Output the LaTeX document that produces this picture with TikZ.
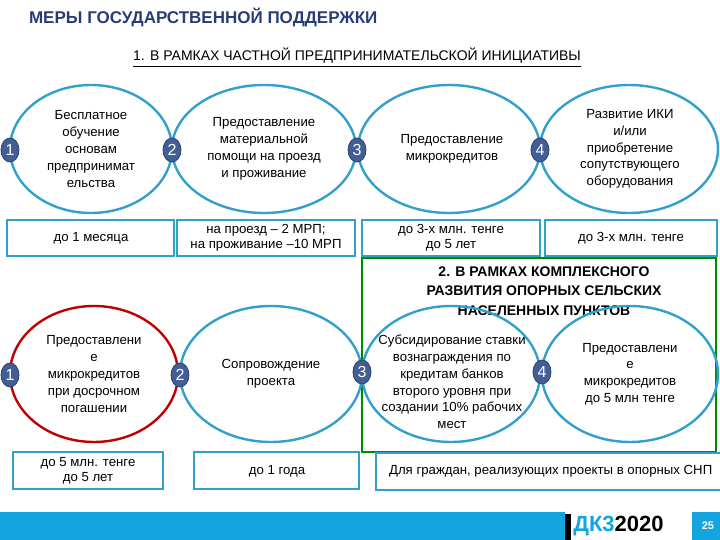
\documentclass[tikz,border=0pt]{standalone}
\usepackage{fontspec}
\usetikzlibrary{shapes.geometric}
\setmainfont{Liberation Sans}
\begin{document}
\begin{tikzpicture}[x=0.5pt,y=-0.5pt,
 ell/.style={draw=ecol, line width=1.2pt},
 redell/.style={draw=red!75!black, line width=1.2pt},
 num/.style={ellipse, fill=ncol, draw=ncol!70!black, inner sep=0pt, minimum width=9pt, minimum height=12pt, text=white, font=\fontsize{8}{9}\selectfont},
 txt/.style={align=center, font=\fontsize{6.6}{8.4}\selectfont},
 box/.style={draw=ecol, line width=1pt, align=center, font=\fontsize{6.6}{7.6}\selectfont, inner sep=0pt}]
\definecolor{ecol}{RGB}{50,160,205}
\definecolor{ncol}{RGB}{65,95,150}
\definecolor{ttl}{RGB}{40,60,120}
\definecolor{barc}{RGB}{20,165,225}
\useasboundingbox (0,0) rectangle (720,540);
\node[font=\bfseries\fontsize{8.5}{10}\selectfont, text=ttl, anchor=west] (title) at (22,18) {МЕРЫ ГОСУДАРСТВЕННОЙ ПОДДЕРЖКИ};
\node[font=\fontsize{7}{8}\selectfont] (sub) at (357,58) {\underline{1. В РАМКАХ ЧАСТНОЙ ПРЕДПРИНИМАТЕЛЬСКОЙ ИНИЦИАТИВЫ}};
% top ellipses
\draw[ell] (91,149) ellipse [x radius=81, y radius=64];
\draw[ell] (264,149) ellipse [x radius=92, y radius=64];
\draw[ell] (449,149) ellipse [x radius=91, y radius=64];
\draw[ell] (629,149) ellipse [x radius=89, y radius=64];
\node[txt] (t1) at (91,149) {Бесплатное\\обучение\\основам\\предпринимат\\ельства};
\node[txt] (t2) at (264,149) {Предоставление\\материальной\\помощи на проезд\\и проживание};
\node[txt] (t3) at (452,149) {Предоставление\\микрокредитов};
\node[txt] (t4) at (630,149) {Развитие ИКИ\\и/или\\приобретение\\сопутствующего\\оборудования};
\node[num] (n1) at (10,150) {1};
\node[num] (n2) at (172,150) {2};
\node[num] (n3) at (357,150) {3};
\node[num] (n4) at (540,150) {4};
\node[box, minimum width=167pt*0.5, minimum height=36pt*0.5] (b1) at (91,238) {до 1 месяца};
\node[box, minimum width=178pt*0.5, minimum height=36pt*0.5] (b2) at (266,238) {на проезд -- 2 МРП;\\на проживание --10 МРП};
\node[box, minimum width=178pt*0.5, minimum height=36pt*0.5] (b3) at (451,238) {до 3-х млн. тенге\\до 5 лет};
\node[box, minimum width=172pt*0.5, minimum height=36pt*0.5] (b4) at (631,238) {до 3-х млн. тенге};
% green frame
\draw[draw=green!55!black, line width=1pt] (362,258) rectangle (716,452);
\node[font=\bfseries\fontsize{7}{9.6}\selectfont, align=center] (t2t) at (544,291) {2. В РАМКАХ КОМПЛЕКСНОГО\\РАЗВИТИЯ ОПОРНЫХ СЕЛЬСКИХ\\НАСЕЛЕННЫХ ПУНКТОВ};
% bottom ellipses
\draw[redell] (94,374) ellipse [x radius=84, y radius=68];
\draw[ell] (271,374) ellipse [x radius=91, y radius=68];
\draw[ell] (451,374) ellipse [x radius=89, y radius=68];
\draw[ell] (630,374) ellipse [x radius=88, y radius=68];
\node[txt] (u1) at (94,374) {Предоставлени\\е\\микрокредитов\\при досрочном\\погашении};
\node[txt] (u2) at (271,374) {Сопровождение\\проекта};
\node[txt] (u3) at (452,382) {Субсидирование ставки\\вознаграждения по\\кредитам банков\\второго уровня при\\создании 10\% рабочих\\мест};
\node[txt] (u4) at (630,374) {Предоставлени\\е\\микрокредитов\\до 5 млн тенге};
\node[num] (m1) at (10,375) {1};
\node[num] (m2) at (180,375) {2};
\node[num] (m3) at (362,372) {3};
\node[num] (m4) at (542,372) {4};
\node[box, minimum width=150pt*0.5, minimum height=37pt*0.5] (c1) at (88,471) {до 5 млн. тенге\\до 5 лет};
\node[box, minimum width=165pt*0.5, minimum height=37pt*0.5] (c2) at (277,471) {до 1 года};
\coordinate (e1) at (722,453);
\coordinate (e2) at (722,490);
\draw[draw=ecol, line width=1pt] (e1) -- (376,453) -- (376,490) -- (e2);
\node[font=\fontsize{6.6}{8.4}\selectfont, anchor=west] (c3) at (382,471) {Для граждан, реализующих проекты в опорных СНП};
% bottom bar
\fill[barc] (0,512) rectangle (720,540);
\fill[white] (565,512) rectangle (692,540);
\fill[black] (565,514) rectangle (571,540);
\node[font=\bfseries\fontsize{11}{12}\selectfont, anchor=west, inner sep=0pt] (logo) at (573,526) {\textcolor{barc}{ДК3}2020};
\node[font=\bfseries\fontsize{5.5}{6}\selectfont, text=white] (pg) at (708,526) {25};
\end{tikzpicture}
\end{document}
